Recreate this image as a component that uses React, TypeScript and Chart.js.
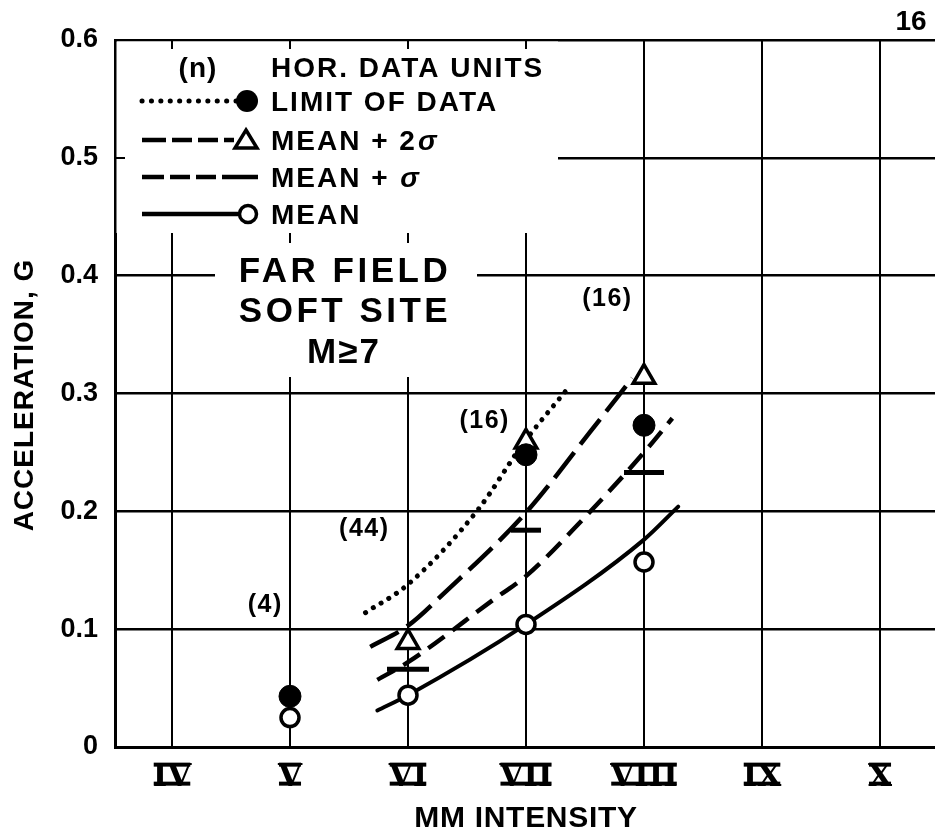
import React, { useEffect, useRef } from 'react';
import { Chart, registerables } from 'chart.js';

Chart.register(...registerables);

// ---- axes ----
const INTENSITY_TICKS = [4, 5, 6, 7, 8, 9, 10];
const INTENSITY_LABELS = ['IV', 'V', 'VI', 'VII', 'VIII', 'IX', 'X'];
const ACCEL_TICKS = [0, 0.1, 0.2, 0.3, 0.4, 0.5, 0.6];
const X_MIN = 3.517;
const X_MAX = 10.466;

// ---- fitted curves ----
const LIMIT_CURVE_X = [5.64, 6.0, 6.59, 6.98, 7.36];
const LIMIT_CURVE_Y = [0.114, 0.138, 0.201, 0.258, 0.305];
const MEAN2S_CURVE_X = [5.68, 6.0, 6.3, 7.0, 7.54, 7.9];
const MEAN2S_CURVE_Y = [0.085, 0.103, 0.13, 0.199, 0.267, 0.313];
const MEAN1S_CURVE_X = [5.74, 6.0, 6.75, 7.0, 7.48, 8.0, 8.24];
const MEAN1S_CURVE_Y = [0.057, 0.072, 0.127, 0.145, 0.193, 0.25, 0.279];
const MEAN_CURVE_X = [5.74, 6.0, 7.0, 8.0, 8.29];
const MEAN_CURVE_Y = [0.031, 0.044, 0.104, 0.176, 0.204];

// ---- data points ----
const LIMIT_PTS_X = [5, 7, 8];
const LIMIT_PTS_Y = [0.043, 0.248, 0.273];
const MEAN2S_PTS_X = [6, 7, 8];
const MEAN2S_PTS_Y = [0.089, 0.259, 0.314];
const MEAN1S_PTS_X = [6, 7, 8];
const MEAN1S_PTS_Y = [0.066, 0.184, 0.233];
const MEAN_PTS_X = [5, 6, 7, 8];
const MEAN_PTS_Y = [0.025, 0.044, 0.104, 0.157];

// ---- sample counts (n) ----
const COUNT_LABELS = ['(4)', '(44)', '(16)', '(16)'];
const COUNT_X = [4.79, 5.63, 6.65, 7.69];
const COUNT_Y = [0.122, 0.187, 0.278, 0.382];

const SANS = "'Liberation Sans', Arial, Helvetica, sans-serif";
const SERIF = "'DejaVu Serif', 'Liberation Serif', serif";

const pts = (xs: number[], ys: number[]) => xs.map((x, i) => ({ x, y: ys[i] }));

function txt(
  ctx: CanvasRenderingContext2D,
  s: string,
  x: number,
  capY: number,
  size: number,
  align: CanvasTextAlign = 'left',
  ls = 0,
  italic = false
): number {
  ctx.save();
  ctx.font = `${italic ? 'italic ' : ''}bold ${size}px ${SANS}`;
  (ctx as any).letterSpacing = `${ls}px`;
  ctx.textAlign = align;
  ctx.textBaseline = 'alphabetic';
  ctx.fillStyle = '#000';
  ctx.fillText(s, x, capY + size * 0.358);
  const w = ctx.measureText(s).width;
  ctx.restore();
  return w;
}

const decor = {
  id: 'decor',
  beforeDatasetsDraw(chart: any) {
    const { ctx, chartArea: a, scales } = chart;
    const xs = scales.x;
    const ys = scales.y;
    ctx.save();
    ctx.fillStyle = '#fff';
    const lgRight = 558;
    const lgBottom = 233;
    ctx.fillRect(a.left + 1.5, a.top + 1.5, lgRight - a.left - 1.5, lgBottom - a.top - 1.5);
    ctx.fillRect(215, lgBottom - 1, 477 - 215, 377 - lgBottom + 1);
    // small tick stubs at mask edges
    ctx.strokeStyle = '#000';
    ctx.lineWidth = 2;
    ctx.beginPath();
    [4, 5, 6, 7].forEach((v) => {
      const px = Math.round(xs.getPixelForValue(v));
      ctx.moveTo(px, a.top);
      ctx.lineTo(px, a.top + 9);
    });
    [5, 6].forEach((v) => {
      const px = Math.round(xs.getPixelForValue(v));
      ctx.moveTo(px, lgBottom);
      ctx.lineTo(px, lgBottom + 10);
    });
    const y5 = Math.round(ys.getPixelForValue(0.5));
    ctx.moveTo(a.left, y5);
    ctx.lineTo(a.left + 10, y5);
    ctx.stroke();
    ctx.restore();
  },
  afterDraw(chart: any) {
    const { ctx, scales } = chart;
    const xs = scales.x;
    const ys = scales.y;
    ctx.save();
    ctx.fillStyle = '#000';
    ctx.strokeStyle = '#000';

    // roman numeral bars
    const tf = xs.options.ticks.font;
    const ly = xs.top + xs.options.ticks.padding + (tf.size * 1.2) / 2;
    ctx.font = `bold ${tf.size}px ${SERIF}`;
    ctx.textBaseline = 'middle';
    INTENSITY_TICKS.forEach((v, i) => {
      const px = xs.getPixelForValue(v);
      const m = ctx.measureText(INTENSITY_LABELS[i]);
      const w = m.width - 2;
      const top = ly - m.actualBoundingBoxAscent;
      const bot = ly + m.actualBoundingBoxDescent;
      ctx.fillRect(px - w / 2, top, w, 4);
      ctx.fillRect(px - w / 2, bot - 4, w, 4);
    });

    // axis titles
    txt(ctx, 'MM INTENSITY', 526, 816, 30, 'center', 0.7);
    ctx.save();
    ctx.translate(23, 395);
    ctx.rotate(-Math.PI / 2);
    txt(ctx, 'ACCELERATION, G', 0, 0, 28, 'center', 1);
    ctx.restore();

    // page number
    txt(ctx, '16', 911, 20, 28, 'center', 0);

    // sample counts
    COUNT_LABELS.forEach((s, i) => {
      txt(ctx, s, xs.getPixelForValue(COUNT_X[i]), ys.getPixelForValue(COUNT_Y[i]), 25, 'center', 1.5);
    });

    // legend
    const L0 = 142;
    const TX = 271;
    const rows = [67, 101, 140, 177, 214];
    txt(ctx, '(n)', 198, rows[0], 28, 'center', 1);
    txt(ctx, 'HOR. DATA UNITS', TX, rows[0], 28, 'left', 2);

    ctx.lineWidth = 4.5;
    // dotted + filled circle
    ctx.save();
    ctx.lineCap = 'round';
    ctx.lineWidth = 5;
    ctx.setLineDash([0.1, 9.3]);
    ctx.beginPath();
    ctx.moveTo(L0, rows[1]);
    ctx.lineTo(238, rows[1]);
    ctx.stroke();
    ctx.restore();
    ctx.beginPath();
    ctx.arc(247, rows[1], 11, 0, Math.PI * 2);
    ctx.fill();
    txt(ctx, 'LIMIT OF DATA', TX, rows[1], 28, 'left', 2);

    // long dash + triangle
    ctx.save();
    ctx.setLineDash([24, 6, 20, 6, 20, 6]);
    ctx.beginPath();
    ctx.moveTo(L0, rows[2]);
    ctx.lineTo(234, rows[2]);
    ctx.stroke();
    ctx.restore();
    ctx.save();
    ctx.lineWidth = 3.5;
    ctx.fillStyle = '#fff';
    ctx.beginPath();
    ctx.moveTo(246, rows[2] - 10);
    ctx.lineTo(257, rows[2] + 8);
    ctx.lineTo(235, rows[2] + 8);
    ctx.closePath();
    ctx.fill();
    ctx.stroke();
    ctx.restore();
    let w = txt(ctx, 'MEAN + 2', TX, rows[2], 28, 'left', 2);
    txt(ctx, 'σ', TX + w + 1, rows[2], 28, 'left', 0, true);

    // medium dash
    ctx.save();
    ctx.setLineDash([22, 6, 20, 6, 20, 6, 40]);
    ctx.beginPath();
    ctx.moveTo(L0, rows[3]);
    ctx.lineTo(258, rows[3]);
    ctx.stroke();
    ctx.restore();
    w = txt(ctx, 'MEAN + ', TX, rows[3], 28, 'left', 2);
    txt(ctx, 'σ', TX + w + 1, rows[3], 28, 'left', 0, true);

    // solid + open circle
    ctx.beginPath();
    ctx.moveTo(L0, rows[4]);
    ctx.lineTo(240, rows[4]);
    ctx.stroke();
    ctx.save();
    ctx.lineWidth = 3.5;
    ctx.fillStyle = '#fff';
    ctx.beginPath();
    ctx.arc(248, rows[4], 8.5, 0, Math.PI * 2);
    ctx.fill();
    ctx.stroke();
    ctx.restore();
    txt(ctx, 'MEAN', TX, rows[4], 28, 'left', 2);

    // title box
    txt(ctx, 'FAR FIELD', 345, 269, 35, 'center', 3.5);
    txt(ctx, 'SOFT SITE', 345, 309, 35, 'center', 3.5);
    txt(ctx, 'M≥7', 344, 350, 35, 'center', 2);

    ctx.restore();
  },
};

export default function App() {
  const ref = useRef<HTMLCanvasElement | null>(null);
  useEffect(() => {
    if (!ref.current) return;
    const curve = (xs: number[], ys: number[], dash: number[], cap: CanvasLineCap, width: number) => ({
      data: pts(xs, ys),
      showLine: true,
      pointRadius: 0,
      borderColor: '#000',
      borderWidth: width,
      borderDash: dash,
      borderCapStyle: cap,
      cubicInterpolationMode: 'monotone' as const,
      fill: false,
    });
    const chart = new Chart(ref.current, {
      type: 'scatter',
      data: {
        datasets: [
          {
            data: pts(LIMIT_PTS_X, LIMIT_PTS_Y),
            pointStyle: 'circle',
            pointRadius: 11,
            pointBackgroundColor: '#000',
            pointBorderColor: '#000',
            pointBorderWidth: 1,
          },
          {
            data: pts(MEAN_PTS_X, MEAN_PTS_Y),
            pointStyle: 'circle',
            pointRadius: 9,
            pointBackgroundColor: '#fff',
            pointBorderColor: '#000',
            pointBorderWidth: 3.5,
          },
          {
            data: pts(MEAN1S_PTS_X, MEAN1S_PTS_Y),
            pointStyle: 'line',
            pointRadius: [21, 15, 20],
            pointBorderColor: '#000',
            pointBorderWidth: 5,
          },
          {
            data: pts(MEAN2S_PTS_X, MEAN2S_PTS_Y),
            pointStyle: 'triangle',
            pointRadius: 12.5,
            pointBackgroundColor: '#fff',
            pointBorderColor: '#000',
            pointBorderWidth: 3.5,
          },
          curve(LIMIT_CURVE_X, LIMIT_CURVE_Y, [0.1, 9], 'round', 5),
          curve(MEAN2S_CURVE_X, MEAN2S_CURVE_Y, [32, 10], 'butt', 4.5),
          curve(MEAN1S_CURVE_X, MEAN1S_CURVE_Y, [20, 10], 'butt', 4.5),
          curve(MEAN_CURVE_X, MEAN_CURVE_Y, [], 'round', 4),
        ] as any,
      },
      options: {
        animation: false,
        responsive: true,
        maintainAspectRatio: false,
        events: [],
        layout: { autoPadding: false, padding: { top: 40, left: 0, right: 0, bottom: 0 } },
        plugins: { legend: { display: false }, tooltip: { enabled: false } },
        scales: {
          x: {
            type: 'linear',
            min: X_MIN,
            max: X_MAX,
            afterBuildTicks: (s: any) => {
              s.ticks = INTENSITY_TICKS.map((v) => ({ value: v }));
            },
            afterFit: (s: any) => {
              s.height = 86;
              s.paddingLeft = 0;
              s.paddingRight = 0;
            },
            grid: { color: '#000', lineWidth: 2, drawTicks: false },
            border: { display: true, color: '#000', width: 3 },
            ticks: {
              autoSkip: false,
              maxRotation: 0,
              padding: 12,
              color: '#000',
              font: { family: SERIF, size: 31, weight: 'bold' },
              callback: (v: any) => {
                const i = INTENSITY_TICKS.indexOf(Number(v));
                return i >= 0 ? INTENSITY_LABELS[i] : '';
              },
            },
          },
          y: {
            type: 'linear',
            min: 0,
            max: 0.6,
            afterBuildTicks: (s: any) => {
              s.ticks = ACCEL_TICKS.map((v) => ({ value: v }));
            },
            afterFit: (s: any) => {
              s.width = 115;
              s.paddingTop = 0;
              s.paddingBottom = 0;
            },
            grid: { color: '#000', lineWidth: 2.5, drawTicks: false },
            border: { display: true, color: '#000', width: 3 },
            ticks: {
              padding: 17,
              color: '#000',
              font: { family: SANS, size: 27, weight: 'bold' },
              callback: (v: any) => (Number(v) === 0 ? '0' : Number(v).toFixed(1)),
            },
          },
        },
      } as any,
      plugins: [decor],
    });
    return () => chart.destroy();
  }, []);
  return (
    <div style={{ position: 'absolute', left: 0, top: 0, width: 935, height: 833, background: '#fff' }}>
      <canvas ref={ref} />
    </div>
  );
}
